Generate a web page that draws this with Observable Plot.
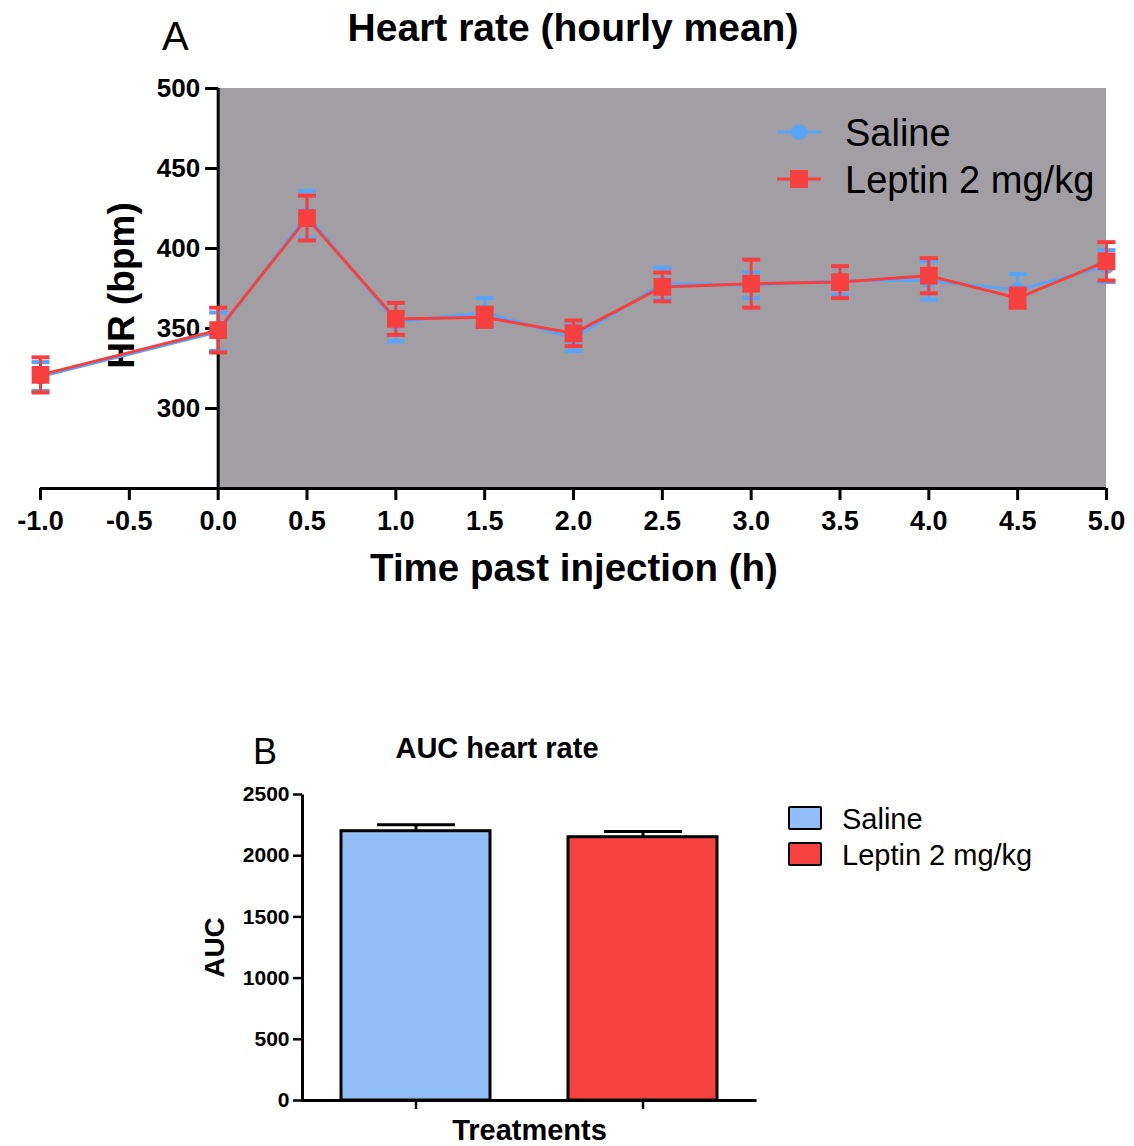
<!DOCTYPE html>
<html><head><meta charset="utf-8">
<script src="https://cdn.jsdelivr.net/npm/d3@7"></script>
<script src="https://cdn.jsdelivr.net/npm/@observablehq/plot@0.6"></script>
<style>
body{margin:0;background:#fff;}
#root{position:relative;width:1134px;height:1146px;font-family:"Liberation Sans",Arial,sans-serif;color:#000;overflow:hidden;background:#fff}
.abs{position:absolute;white-space:nowrap;line-height:1}
#root svg{position:absolute;left:0}
</style></head><body><div id="root"></div>
<script>
// ---------- Data (panel A) ----------
const times = [-1, 0, 0.5, 1, 1.5, 2, 2.5, 3, 3.5, 4, 4.5, 5];
const salineMean = [320, 348, 421, 354, 360, 344, 378, 377, 380, 380, 374, 389];
const salineSem  = [9, 12, 15, 12, 9, 8, 10, 8, 9, 12, 10, 10];
const leptinMean = [321, 349, 419, 356, 357, 347, 376, 378, 379, 383, 369, 392];
const leptinSem  = [11, 14, 14, 10, 6, 8, 9, 15, 10, 11, 6, 12];
const seriesNames = ["Saline", "Leptin 2 mg/kg"];
const xTicks = [-1, -0.5, 0, 0.5, 1, 1.5, 2, 2.5, 3, 3.5, 4, 4.5, 5];
const yTicksA = [300, 350, 400, 450, 500];
const yDomainA = [250, 500];
const injectionTime = 0;

// ---------- Data (panel B) ----------
const groups = ["Saline", "Leptin 2 mg/kg"];
const aucMean = [2200, 2151];
const aucSem = [52, 47];
const yTicksB = [0, 500, 1000, 1500, 2000, 2500];
const yDomainB = [0, 2500];

// ---------- Styles ----------
const FONT = '"Liberation Sans", Arial, sans-serif';
const blue = "#58a4f8", red = "#f63f3f", gray = "#a19fa4";
const barColors = ["#92bff8", "#f84141"];

const saline = times.map((t, i) => ({t, mean: salineMean[i], sem: salineSem[i]}));
const leptin = times.map((t, i) => ({t, mean: leptinMean[i], sem: leptinSem[i]}));
const bars = groups.map((g, i) => ({group: g, auc: aucMean[i], sem: aucSem[i], color: barColors[i]}));

const hline = (a, b) => ({draw(ctx) { ctx.moveTo(a, 0); ctx.lineTo(b, 0); }});
const capA = hline(-9, 9), capB = hline(-39, 39), tickLeft = hline(-13, 0);

function seriesMarks(data, color, symbol, r) {
  return [
    Plot.ruleX(data, {x: "t", y1: d => d.mean - d.sem, y2: d => d.mean + d.sem, stroke: color, strokeWidth: 3}),
    Plot.dot(data, {x: "t", y: d => d.mean + d.sem, symbol: capA, stroke: color, strokeWidth: 4, fill: "none"}),
    Plot.dot(data, {x: "t", y: d => d.mean - d.sem, symbol: capA, stroke: color, strokeWidth: 4, fill: "none"}),
    Plot.line(data, {x: "t", y: "mean", stroke: color, strokeWidth: 3}),
    Plot.dot(data, {x: "t", y: "mean", symbol, r, fill: color, stroke: "none"})
  ];
}

const root = document.getElementById("root");
function addText(txt, {x, y, size, bold = false, anchor = "start"}) {
  const d = document.createElement("div");
  d.className = "abs";
  d.textContent = txt;
  d.style.left = x + "px";
  d.style.top = y + "px";
  d.style.fontSize = size + "px";
  d.style.fontWeight = bold ? "bold" : "normal";
  d.style.transform = anchor === "middle" ? "translate(-50%,-50%)" : "translate(0,-50%)";
  root.appendChild(d);
}

// ---------- Panel A ----------
const plotA = Plot.plot({
  width: 1134, height: 600,
  marginTop: 88, marginBottom: 112, marginLeft: 40, marginRight: 28,
  x: {domain: [d3.min(times), d3.max(times)], axis: null},
  y: {domain: yDomainA, axis: null},
  style: {fontFamily: FONT, background: "transparent", color: "black"},
  marks: [
    Plot.rect([null], {x1: () => injectionTime, x2: () => d3.max(times), y1: () => yDomainA[0], y2: () => yDomainA[1], fill: gray}),
    Plot.text(["HR (bpm)"], {frameAnchor: "left", textAnchor: "middle", lineAnchor: "middle", rotate: -90, dx: 82, dy: -3, fontSize: 37, fontWeight: "bold", fill: "black"}),
    Plot.ruleX([injectionTime], {stroke: "black", strokeWidth: 3}),
    Plot.ruleY([yDomainA[0]], {stroke: "black", strokeWidth: 3}),
    Plot.dot(yTicksA, {x: () => injectionTime, y: d => d, symbol: tickLeft, stroke: "black", strokeWidth: 3, fill: "none"}),
    Plot.text(yTicksA, {x: () => injectionTime, y: d => d, text: d => String(d), dx: -18, textAnchor: "end", fontSize: 26, fontWeight: "bold", fill: "black"}),
    Plot.axisX(xTicks, {tickSize: 12, tickPadding: 10, tickFormat: d => d.toFixed(1), fontSize: 27, fontWeight: "bold", strokeWidth: 3, label: null}),
    ...seriesMarks(saline, blue, "circle", 8),
    ...seriesMarks(leptin, red, "square", 10)
  ]
});
plotA.style.top = "0px";
root.appendChild(plotA);

addText("A", {x: 162, y: 36, size: 40});
addText("Heart rate (hourly mean)", {x: 573, y: 27, size: 39, bold: true, anchor: "middle"});
addText("Time past injection (h)", {x: 574, y: 568, size: 38.5, bold: true, anchor: "middle"});

// legend A
function lineSwatch(color, sym) {
  const s = document.createElementNS("http://www.w3.org/2000/svg", "svg");
  s.setAttribute("width", 44); s.setAttribute("height", 24);
  s.style.position = "absolute";
  s.innerHTML = `<line x1="0" y1="12" x2="44" y2="12" stroke="${color}" stroke-width="3"/>` +
    (sym === "circle" ? `<circle cx="22" cy="12" r="8" fill="${color}"/>` : `<rect x="13" y="3" width="18" height="18" fill="${color}"/>`);
  return s;
}
[[blue, "circle", 132], [red, "square", 179]].forEach(([c, s, y], i) => {
  const sw = lineSwatch(c, s);
  sw.style.left = "777px"; sw.style.top = (y - 12) + "px";
  root.appendChild(sw);
  addText(seriesNames[i], {x: 845, y: y + 1, size: 38});
});

// ---------- Panel B ----------
const wB = 1134, hB = 446, mL = 302, mR = 378, mT = 94, mBt = 46;
const halfPerim = (wB - mL - mR) + (hB - mT - mBt);
const plotB = Plot.plot({
  width: wB, height: hB,
  marginTop: mT, marginBottom: mBt, marginLeft: mL, marginRight: mR,
  x: {domain: groups, paddingInner: 0.342, paddingOuter: 0.1667, axis: null},
  y: {domain: yDomainB, axis: null},
  color: {type: "identity"},
  style: {fontFamily: FONT, background: "transparent", color: "black"},
  marks: [
    Plot.text(["AUC"], {frameAnchor: "left", textAnchor: "middle", lineAnchor: "middle", rotate: -90, dx: -87, fontSize: 28, fontWeight: "bold", fill: "black"}),
    Plot.text(["Treatments"], {frameAnchor: "bottom", textAnchor: "middle", lineAnchor: "middle", dy: 30, fontSize: 29, fontWeight: "bold", fill: "black"}),
    Plot.ruleX(bars, {x: "group", y1: "auc", y2: d => d.auc + d.sem, stroke: "black", strokeWidth: 3}),
    Plot.dot(bars, {x: "group", y: d => d.auc + d.sem, symbol: capB, stroke: "black", strokeWidth: 3, fill: "none"}),
    Plot.barY(bars, {x: "group", y: "auc", fill: "color", stroke: "black", strokeWidth: 3}),
    Plot.frame({stroke: "black", strokeWidth: 3, strokeDasharray: `0 ${halfPerim} ${halfPerim}`}),
    Plot.axisY(yTicksB, {tickSize: 9, tickPadding: 4, tickFormat: d => String(d), fontSize: 21, fontWeight: "bold", strokeWidth: 2.5, label: null}),
    Plot.axisX({tickSize: 9, tickFormat: () => "", strokeWidth: 2.5, label: null})
  ]
});
plotB.style.top = "700px";
root.appendChild(plotB);

addText("B", {x: 253, y: 752, size: 36});
addText("AUC heart rate", {x: 497, y: 748, size: 29, bold: true, anchor: "middle"});

// legend B
groups.forEach((g, i) => {
  const y = 818 + i * 36;
  const sw = document.createElement("div");
  sw.style.cssText = `position:absolute;left:788px;top:${y - 12}px;width:30px;height:20px;border:2.5px solid #000;border-radius:2px;background:${barColors[i]}`;
  root.appendChild(sw);
  addText(g, {x: 842, y: y + 1, size: 29});
});
</script>
</body></html>
